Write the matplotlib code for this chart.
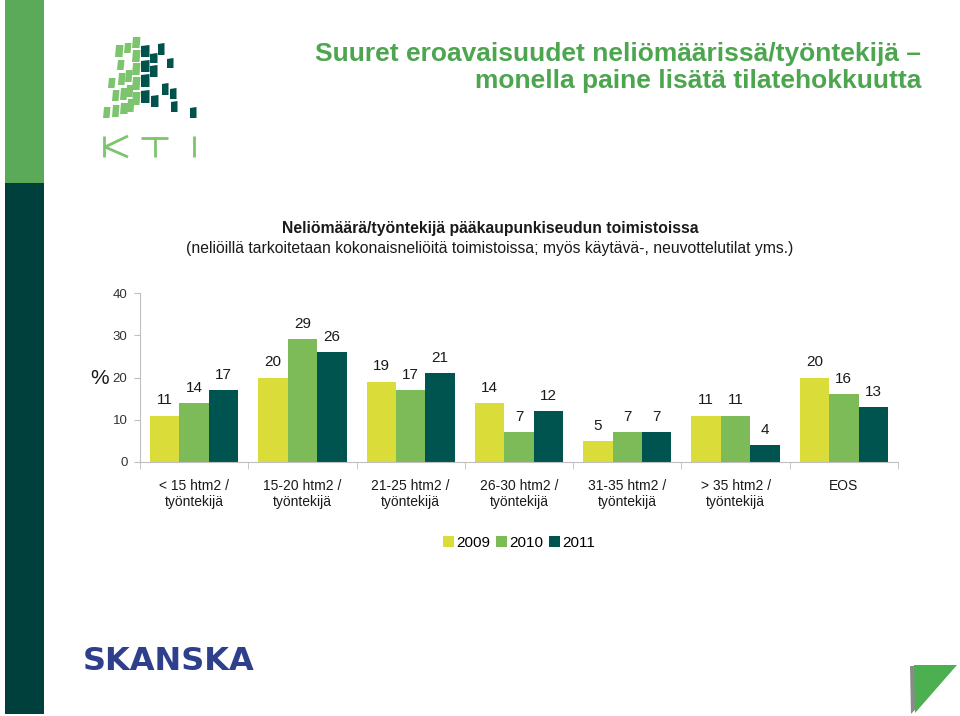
import matplotlib
matplotlib.use("Agg")
import matplotlib.pyplot as plt
from matplotlib.patches import Rectangle, Polygon
from matplotlib.lines import Line2D
import numpy as np

plt.rcParams['font.family'] = ['Liberation Sans', 'DejaVu Sans']

categories = ['< 15 htm2 /\ntyöntekijä', '15-20 htm2 /\ntyöntekijä', '21-25 htm2 /\ntyöntekijä',
              '26-30 htm2 /\ntyöntekijä', '31-35 htm2 /\ntyöntekijä', '> 35 htm2 /\ntyöntekijä', 'EOS']
series_names = ['2009', '2010', '2011']
v2009 = [11, 20, 19, 14, 5, 11, 20]
v2010 = [14, 29, 17, 7, 7, 11, 16]
v2011 = [17, 26, 21, 12, 7, 4, 13]
yticks = [0, 10, 20, 30, 40]

title1 = 'Suuret eroavaisuudet neliömäärissä/työntekijä –'
title2 = 'monella paine lisätä tilatehokkuutta'
sub1 = 'Neliömäärä/työntekijä pääkaupunkiseudun toimistoissa'
sub2 = '(neliöillä tarkoitetaan kokonaisneliöitä toimistoissa; myös käytävä-, neuvottelutilat yms.)'

c_yellow = '#DADC3A'
c_green = '#7DBA58'
c_teal = '#00544F'
c_title = '#4DA64F'
colors = [c_yellow, c_green, c_teal]

W, H = 960, 716
fig = plt.figure(figsize=(W / 100, H / 100), dpi=100)

# overlay axes in pixel coordinates for decorations
ov = fig.add_axes([0, 0, 1, 1])
ov.set_xlim(0, W)
ov.set_ylim(H, 0)
ov.axis('off')

# sidebar
ov.add_patch(Rectangle((5, 0), 39, 183, color='#5AAA5A', lw=0))
ov.add_patch(Rectangle((5, 183), 39, 531, color='#00403C', lw=0))

# KTI logo squares (pixel boxes x0, x1, y0, y1)
light_sq = [(103, 108, 107, 118),
            (108, 113, 78, 88), (112, 117, 90, 101), (112, 117, 105, 117),
            (115, 121, 45, 57), (117, 122, 60, 70), (118, 123, 73, 85), (120, 125, 88, 100), (120, 126, 103, 114),
            (124, 129, 43, 53), (125, 130, 70, 82), (126, 131, 85, 97), (127, 132, 99, 112),
            (132, 138, 37, 48), (132, 138, 50, 62), (132, 138, 63, 75), (132, 138, 77, 90), (132, 138, 92, 105)]
dark_sq = [(141, 148, 45, 57), (141, 148, 60, 72), (141, 148, 74, 87), (141, 148, 90, 103),
           (150, 156, 53, 63), (150, 156, 65, 77), (151, 157, 95, 107),
           (158, 163, 43, 55), (162, 167, 83, 95), (167, 172, 58, 68),
           (170, 175, 88, 99), (171, 176, 101, 112), (190, 195, 107, 118)]
for (x0, x1, y0, y1) in light_sq:
    x1 = x1 + 1.5
    ov.add_patch(Polygon([(x0 + 1, y0), (x1 + 1, y0), (x1, y1), (x0, y1)], closed=True,
                         color='#7CC46E', lw=0))
for (x0, x1, y0, y1) in dark_sq:
    x1 = x1 + 1.5
    ov.add_patch(Polygon([(x0, y0 + 1), (x1, y0), (x1, y1), (x0, y1)], closed=True,
                         color='#00524D', lw=0))
kti_c = '#7CC46E'
for xs, ys in [([103.5, 103.5], [136, 157]), ([105, 128], [147, 136]), ([105, 128], [147, 157]),
               ([141, 168], [137.5, 137.5]), ([154.5, 154.5], [137, 157]), ([193.5, 193.5], [136, 157])]:
    ov.add_line(Line2D(xs, ys, color=kti_c, lw=2.0, solid_capstyle='butt'))

# Skanska
ov.text(83, 662, 'SKANSKA', color='#2E3F8C', fontsize=23, fontweight='bold',
        family='DejaVu Sans', ha='left', va='center')

# bottom-right triangle
ov.add_patch(Polygon([(910, 666), (955, 666), (911, 714)], closed=True, color='#8A8A8A', lw=0))
ov.add_patch(Polygon([(914, 665), (957, 665), (915, 713)], closed=True, color='#4CAF50', lw=0))

# titles
ov.text(921, 61, title1, color=c_title, fontsize=19, fontweight='bold', ha='right', va='baseline')
ov.text(921, 88, title2, color=c_title, fontsize=19, fontweight='bold', ha='right', va='baseline')
ov.text(490, 228, sub1, color='#1a1a1a', fontsize=11.3, fontweight='bold', ha='center', va='center')
ov.text(490, 248, sub2, color='#1a1a1a', fontsize=11.3, ha='center', va='center')
ov.text(100, 378, '%', color='#1a1a1a', fontsize=15, ha='center', va='center')

# chart axes
ax = fig.add_axes([140 / W, 1 - 462 / H, (898 - 140) / W, (462 - 293) / H])
ax.patch.set_alpha(0)
x = np.arange(len(categories))
bw = 0.272
for i, (vals, col, name) in enumerate(zip([v2009, v2010, v2011], colors, series_names)):
    ax.bar(x + (i - 1) * bw, vals, width=bw, color=col, label=name, lw=0)
    for xb, v in zip(x + (i - 1) * bw, vals):
        ax.annotate(str(v), (xb, v), xytext=(0, 6), textcoords='offset points',
                    ha='center', va='bottom', fontsize=11, color='#1a1a1a')

ax.set_xlim(-0.5, len(categories) - 0.5)
ax.set_ylim(0, 40)
ax.set_yticks(yticks)
ax.tick_params(axis='y', length=4, color='#BFBFBF', labelsize=9.5, labelcolor='#333333', pad=5)
ax.set_xticks(x)
ax.set_xticklabels(categories, fontsize=10, color='#1a1a1a', linespacing=1.25)
ax.tick_params(axis='x', which='major', length=0, pad=12)
ax.set_xticks(np.arange(-0.5, len(categories), 1.0), minor=True)
ax.tick_params(axis='x', which='minor', length=5, color='#BFBFBF')
for s in ['top', 'right']:
    ax.spines[s].set_visible(False)
for s in ['left', 'bottom']:
    ax.spines[s].set_color('#BFBFBF')

handles, labels = ax.get_legend_handles_labels()
fig.legend(handles, labels, loc='center', bbox_to_anchor=(519 / W, 1 - 543 / H), ncol=3,
           frameon=False, fontsize=11, handlelength=0.75, handleheight=0.75,
           handletextpad=0.15, columnspacing=0.35)

fig.savefig('out.png', dpi=100)
